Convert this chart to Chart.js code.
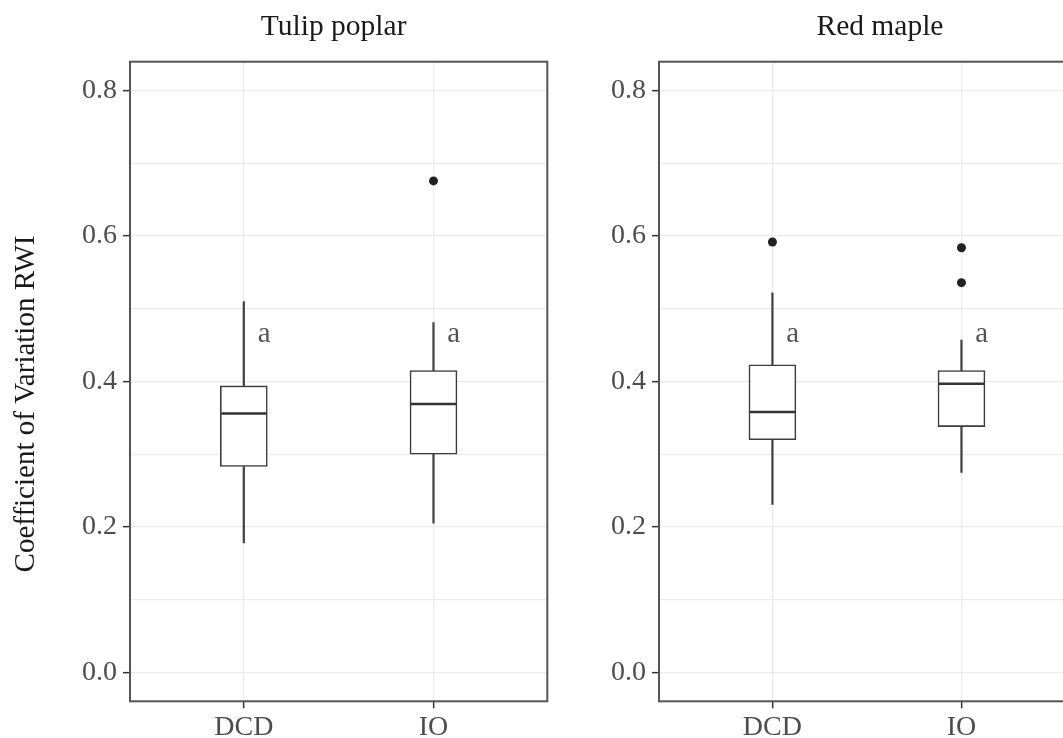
<!DOCTYPE html>
<html>
<head>
<meta charset="utf-8">
<script src="https://cdn.jsdelivr.net/npm/chart.js@4.4.0/dist/chart.umd.min.js"></script>
<style>
  html, body { margin: 0; padding: 0; background: #fff; overflow: hidden; }
  #wrap { position: relative; width: 1063px; height: 738px; overflow: hidden; }
  canvas { position: absolute; top: 0; }
  #tulipChart { left: 0; }
  #mapleChart { left: 600px; }
</style>
</head>
<body>
<div id="wrap">
  <canvas id="tulipChart" width="600" height="738"></canvas>
  <canvas id="mapleChart" width="500" height="738"></canvas>
</div>
<script>
const groups = ['DCD', 'IO'];
const yMajor = [0, 0.2, 0.4, 0.6, 0.8];
const yMinor = [0.1, 0.3, 0.5, 0.7];

// Tulip poplar
const tulipLow = [0.178, 0.205];
const tulipQ1 = [0.283, 0.300];
const tulipMedian = [0.356, 0.369];
const tulipQ3 = [0.394, 0.415];
const tulipHigh = [0.510, 0.481];
const tulipOutliers = [[], [0.676]];
const tulipLetters = ['a', 'a'];

// Red maple
const mapleLow = [0.231, 0.275];
const mapleQ1 = [0.320, 0.338];
const mapleMedian = [0.358, 0.397];
const mapleQ3 = [0.423, 0.415];
const mapleHigh = [0.522, 0.457];
const mapleOutliers = [[0.592], [0.584, 0.536]];
const mapleLetters = ['a', 'a'];

const letterY = 0.455;
const letterShift = 0.107;

const serif = 'Liberation Serif';
const tickGray = '#4d4d4d';

// frame around the plotting area, like theme_bw
const panelFrame = {
    id: 'panelFrame',
    afterDraw(chart) {
        const { ctx, chartArea: a } = chart;
        ctx.save();
        ctx.strokeStyle = '#555555';
        ctx.lineWidth = 2;
        ctx.strokeRect(a.left, a.top, a.right - a.left, a.bottom - a.top);
        ctx.restore();
    }
};

// facet title, significance letters and optional rotated y title
const panelText = {
    id: 'panelText',
    afterDraw(chart, args, opts) {
        const { ctx, scales, chartArea: a } = chart;
        ctx.save();
        ctx.textAlign = 'center';
        ctx.textBaseline = 'alphabetic';

        ctx.font = `29.5px "${serif}"`;
        ctx.fillStyle = '#1a1a1a';
        ctx.fillText(opts.title, (a.left + a.right) / 2 + opts.titleShift, 35);

        ctx.font = `29px "${serif}"`;
        ctx.fillStyle = '#555555';
        (opts.letters || []).forEach((t, i) => {
            ctx.fillText(t, scales.x.getPixelForValue(i + 1 + letterShift), scales.y.getPixelForValue(letterY));
        });

        if (opts.yTitle) {
            ctx.translate(33.5, 404);
            ctx.rotate(-Math.PI / 2);
            ctx.fillStyle = '#1a1a1a';
            ctx.fillText(opts.yTitle, 0, 0);
        }
        ctx.restore();
    }
};

function makePanel(canvasId, title, d, layout) {
    const ctx = document.getElementById(canvasId).getContext('2d');
    const pos = i => i + 1;

    const outlierPoints = [];
    d.outliers.forEach((list, i) => list.forEach(v => outlierPoints.push({ x: pos(i), y: v })));

    return new Chart(ctx, {
        type: 'bar',
        data: {
            datasets: [
                {
                    type: 'scatter',
                    data: outlierPoints,
                    pointRadius: 4.5,
                    pointBackgroundColor: '#222222',
                    pointBorderWidth: 0,
                    order: 0
                },
                {
                    type: 'scatter',
                    data: d.median.map((v, i) => ({ x: pos(i), y: v })),
                    pointStyle: 'line',
                    pointRadius: 22.5,
                    pointBorderColor: '#333333',
                    pointBorderWidth: 2.6,
                    order: 1
                },
                {
                    data: d.q1.map((v, i) => ({ x: pos(i), y: [v, d.q3[i]] })),
                    backgroundColor: '#ffffff',
                    borderColor: '#3c3c3c',
                    borderWidth: 1.6,
                    borderSkipped: false,
                    barThickness: 47,
                    grouped: false,
                    order: 2
                },
                {
                    data: d.low.map((v, i) => ({ x: pos(i), y: [v, d.q1[i]] })),
                    backgroundColor: '#444444',
                    borderWidth: 0,
                    barThickness: 1.6,
                    grouped: false,
                    order: 3
                },
                {
                    data: d.q3.map((v, i) => ({ x: pos(i), y: [v, d.high[i]] })),
                    backgroundColor: '#444444',
                    borderWidth: 0,
                    barThickness: 1.6,
                    grouped: false,
                    order: 3
                }
            ]
        },
        options: {
            responsive: false,
            animation: false,
            events: [],
            layout: { padding: { left: 0, right: layout.padRight, top: 61.7, bottom: 0 } },
            scales: {
                x: {
                    type: 'linear',
                    min: 0.4,
                    max: 2.6,
                    offset: false,
                    afterBuildTicks: s => { s.ticks = groups.map((g, i) => ({ value: pos(i) })); },
                    afterFit: s => { s.height = 36.7; },
                    ticks: {
                        callback: (v, i) => groups[i],
                        font: { family: serif, size: 28 },
                        color: tickGray,
                        padding: 3,
                        autoSkip: false,
                        maxRotation: 0
                    },
                    grid: {
                        offset: false,
                        color: '#ebebeb',
                        lineWidth: 1.3,
                        tickLength: 7,
                        tickColor: '#333333',
                        tickWidth: 1.5
                    },
                    border: { display: false }
                },
                y: {
                    type: 'linear',
                    min: -0.04,
                    max: 0.84,
                    afterBuildTicks: s => {
                        s.ticks = yMajor.concat(yMinor).sort((a, b) => a - b).map(v => ({ value: v }));
                    },
                    afterFit: s => { s.width = layout.yWidth; },
                    ticks: {
                        callback: v => yMajor.includes(v) ? v.toFixed(1) : '',
                        font: { family: serif, size: 28 },
                        color: tickGray,
                        padding: 6,
                        autoSkip: false
                    },
                    grid: {
                        color: '#ebebeb',
                        lineWidth: 1.3,
                        tickLength: 7,
                        tickColor: c => yMajor.includes(c.tick.value) ? '#333333' : 'rgba(0,0,0,0)',
                        tickWidth: 1.5
                    },
                    border: { display: false }
                }
            },
            plugins: {
                legend: { display: false },
                tooltip: { enabled: false },
                title: { display: false },
                panelText: {
                    title: title,
                    titleShift: layout.titleShift,
                    letters: d.letters,
                    yTitle: layout.yTitle
                }
            }
        },
        plugins: [panelFrame, panelText]
    });
}

makePanel('tulipChart', 'Tulip poplar', {
    low: tulipLow, q1: tulipQ1, median: tulipMedian, q3: tulipQ3, high: tulipHigh,
    outliers: tulipOutliers, letters: tulipLetters
}, { yWidth: 130, padRight: 52.7, titleShift: -5, yTitle: 'Coefficient of Variation RWI' });

makePanel('mapleChart', 'Red maple', {
    low: mapleLow, q1: mapleQ1, median: mapleMedian, q3: mapleQ3, high: mapleHigh,
    outliers: mapleOutliers, letters: mapleLetters
}, { yWidth: 59, padRight: 21.5, titleShift: 13 });
</script>
</body>
</html>
